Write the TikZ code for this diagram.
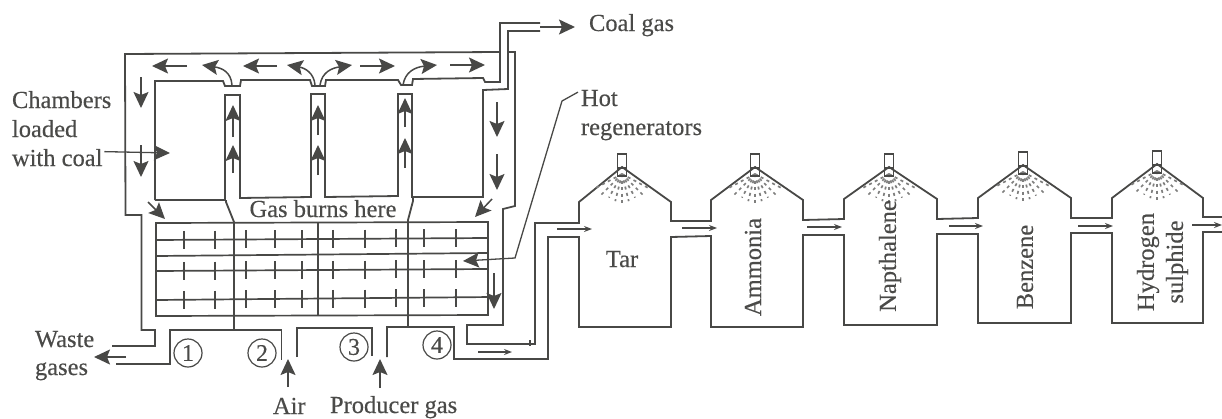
\documentclass[tikz,border=0pt]{standalone}
\usepackage{fontspec}
\setmainfont[FakeBold=0.35]{Liberation Serif}
\usetikzlibrary{arrows.meta}
\definecolor{ink}{HTML}{484846}
\definecolor{lbl}{HTML}{4A4A48}
\tikzset{
  wall/.style={draw=ink,line width=1.8pt,line join=miter},
  grid/.style={draw=ink,line width=1.7pt},
  tick/.style={draw=ink,line width=1.4pt},
  flow/.style={draw=ink,line width=1.5pt,-{Stealth[length=16pt,width=15pt,inset=3pt]}},
  thinflow/.style={draw=ink,line width=1.4pt,-{Stealth[length=8pt,width=6pt]}},
  leader/.style={draw=ink,line width=1.3pt},
  lab/.style={text=lbl,font=\fontsize{24.5}{29}\selectfont,inner sep=0pt,outer sep=0pt},
  num/.style={draw=ink,line width=1.2pt,circle,minimum size=28pt,inner sep=0pt,text=lbl,font=\fontsize{24}{24}\selectfont},
  spray/.style={draw=ink!70,line width=1.7pt,dash pattern=on 3pt off 3.5pt},
}
\newcommand{\gasnozzle}[2]{%
  \foreach \a/\r in {0/30,14/28,-14/28,29/27,-29/27,45/29,-45/29,62/30,-62/30}{
    \draw[spray] (#1,#2+7) -- +({-90+\a}:\r pt);
  }
  \draw[draw=ink,line width=1.5pt] (#1-4.5,#2-13) rectangle (#1+4.5,#2+9);
  \draw[draw=ink,line width=1.2pt] (#1-4.5,#2+1) -- (#1+4.5,#2+1);
}
\begin{document}
\begin{tikzpicture}[x=1pt,y=-1pt]
\useasboundingbox (0,0) rectangle (1222,418);
% furnace casing
\draw[wall] (112,346)--(155,346)--(155,330)--(141.5,330)--(141.5,215)--(125.5,215)--(125,54)--(500,52);
\draw[wall] (155,200)--(155,81)--(223,81)--(225,86)--(240,86)--(241,80)--(310,80)--(312,86)--(325,86)--(326,80)--(398,80)--(401,85)--(412,85)--(413,79)--(483,78)--(485,82)--(500,82)--(500,23)--(540,23);
\draw[wall] (540,31)--(508,31)--(508,89)--(483,90)--(483,197)--(412,197)--(412,94)--(398,94)--(398,196)--(325,197)--(325,94)--(311,94)--(311,197)--(240,198)--(240,95)--(225,95)--(225,200)--(155,200);
\draw[wall] (508,52)--(515,52)--(515,206)--(503,209)--(503,325)--(467,325)--(467,344)--(535,344)--(535,223)--(579,223)--(579,202)--(622,167)--(671,202)--(671,221)--(711,221)--(711,200)--(755,167)--(803,200)--(803,220)--(844,219)--(844,199)--(889,167)--(937,199)--(937,219)--(978,218)--(978,198)--(1023,165)--(1071,198)--(1071,218)--(1112,218)--(1112,198)--(1157,164)--(1203,198)--(1203,217)--(1222,217);
\draw[wall] (387,357)--(387,327)--(454,327)--(454,359)--(548,359)--(548,237)--(579,237)--(579,327)--(671,327)--(671,237)--(711,236)--(711,327)--(803,327)--(803,235)--(844,235)--(844,325)--(937,325)--(937,234)--(978,234)--(978,323)--(1071,323)--(1071,233)--(1112,233)--(1112,323)--(1203,323)--(1203,232)--(1222,232);
\draw[wall] (116,364)--(170,364)--(170,330)--(281.5,330)--(281.5,360);
\draw[wall] (297,357)--(297,328)--(372,328)--(372,356);
\draw[tick] (530,340)--(530,346);
% regenerators
\draw[grid] (156,223)--(488,222)--(488,315)--(156,316)--cycle;
\draw[grid] (156,240)--(488,238);
\draw[grid] (156,256)--(488,253);
\draw[grid] (156,271)--(488,269);
\draw[grid] (156,300)--(492,297);
\draw[wall] (226,200)--(226,202)--(234,222)--(234,329);
\draw[wall] (413,197)--(413,201)--(408,220)--(408,327);
\draw[grid] (318,222)--(318,316);
\foreach \x in {184,215,246,275,302,333,365,396,424,456}{
  \pgfmathsetmacro{\d}{-2.2*(\x-156)/332}
  \draw[tick] (\x,231+\d)--(\x,249+\d);
  \draw[tick] (\x,262+\d)--(\x,280+\d);
  \draw[tick] (\x,291+\d)--(\x,309+\d);
}
% nozzles
\gasnozzle{622}{167}\gasnozzle{755}{167}\gasnozzle{889}{167}\gasnozzle{1023}{165}\gasnozzle{1157}{164}
% flow arrows
\draw[flow] (187,66)--(152,66);
\draw[flow] (232,85) .. controls (231,72) and (222,68) .. (202,65);
\draw[flow] (277,66)--(243,66);
\draw[flow] (315,85) .. controls (314,73) and (305,68) .. (287,65);
\draw[flow] (320,85) .. controls (322,72) and (332,68) .. (352,65);
\draw[flow] (360,66)--(395,66);
\draw[flow] (403,85) .. controls (405,72) and (415,67) .. (437,65);
\draw[flow] (450,65)--(485,65);
\draw[flow] (141,77)--(141,108);
\draw[flow] (141,145)--(141,177);
\draw[flow] (233,173)--(233,145);
\draw[flow] (233,137)--(233,105);
\draw[flow] (318,175)--(318,145);
\draw[flow] (318,135)--(318,105);
\draw[flow] (405,168)--(405,138);
\draw[flow] (405,127)--(405,98);
\draw[flow] (497,102)--(497,137);
\draw[flow] (497,154)--(497,190);
\draw[flow] (148,202)--(165,219);
\draw[flow] (492,199)--(475,217);
\draw[flow] (494,273)--(494,309);
\draw[flow] (126,357)--(94,357);
\draw[flow] (288,387)--(288,359);
\draw[flow] (380,388)--(380,359);
\draw[flow] (540,27)--(575,27);
\foreach \xa/\xb/\yy in {478/512/352,557/592/229,682/717/228,807/842/227,949/983/226,1078/1113/226,1192/1222/225}{
  \draw[thinflow] (\xa,\yy)--(\xb,\yy);
}
% labels
\node[lab,anchor=base west,align=left] (chambers) at (12,108) {Chambers};
\node[lab,anchor=base west] (loaded) at (12,137) {loaded};
\node[lab,anchor=base west] (withcoal) at (12,166) {with coal};
\node[lab,anchor=base west] (coalgas) at (589,31) {Coal gas};
\node[lab,anchor=base west] (hot) at (581,106) {Hot};
\node[lab,anchor=base west] (regen) at (581,135) {regenerators};
\node[lab,anchor=base] (burns) at (323,217) {Gas burns here};
\node[lab,anchor=base west] (waste) at (35,347) {Waste};
\node[lab,anchor=base west] (gases) at (35,375) {gases};
\node[lab,anchor=base west] (air) at (273,414) {Air};
\node[lab,anchor=base west] (producer) at (330,413) {Producer gas};
\node[lab,anchor=base] (tar) at (622,267) {Tar};
\node[lab,rotate=90] (ammonia) at (753,267) {Ammonia};
\node[lab,rotate=90] (naph) at (890,256) {Napthalene};
\node[lab,rotate=90] (benz) at (1025,267) {Benzene};
\node[lab,rotate=90] (hyd) at (1148,262) {Hydrogen};
\node[lab,rotate=90] (sul) at (1177,262) {sulphide};
\node[num] (n1) at (188,353) {1};
\node[num] (n2) at (262,353) {2};
\node[num] (n3) at (354,347) {3};
\node[num] (n4) at (437,345) {4};
% leaders
\draw[leader,-{Stealth[length=16pt,width=15pt,inset=3pt]}] (withcoal.east) ++(2,-6) -- (170,153);
\draw[leader,-{Stealth[length=16pt,width=15pt,inset=3pt]}] (hot.west) ++(-3,-6) -- (562,101) -- (515,258) -- (463,261);
\end{tikzpicture}
\end{document}
